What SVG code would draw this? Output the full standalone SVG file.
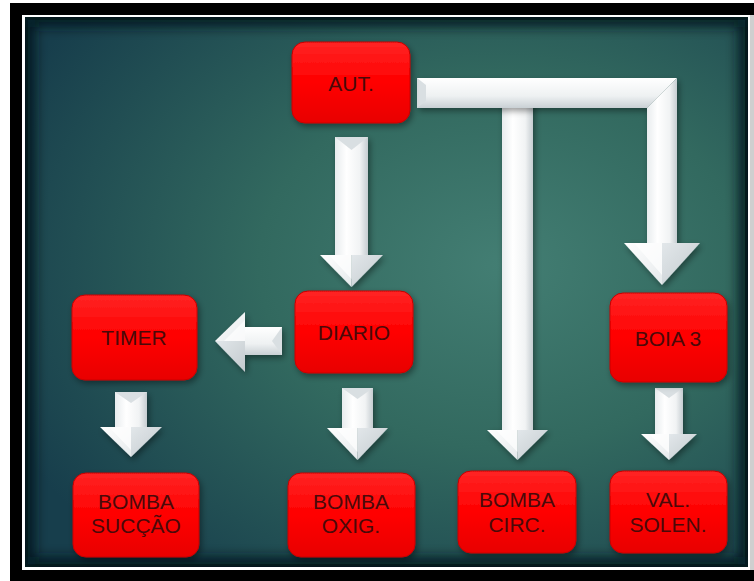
<svg xmlns="http://www.w3.org/2000/svg" width="754" height="581" viewBox="0 0 754 581">
  <defs>
    <radialGradient id="bg" cx="0.66" cy="0.45" r="0.75">
      <stop offset="0" stop-color="#437e73"/>
      <stop offset="0.45" stop-color="#32695f"/>
      <stop offset="1" stop-color="#173e4c"/>
    </radialGradient>
    <linearGradient id="redFill" x1="0" y1="0" x2="0" y2="1">
      <stop offset="0" stop-color="#ff2424"/>
      <stop offset="0.5" stop-color="#ff0000"/>
      <stop offset="1" stop-color="#e80000"/>
    </linearGradient>
    <linearGradient id="shaftV" x1="0" y1="0" x2="1" y2="0">
      <stop offset="0" stop-color="#e8ecee"/>
      <stop offset="0.35" stop-color="#ffffff"/>
      <stop offset="0.75" stop-color="#f1f3f4"/>
      <stop offset="1" stop-color="#c6cdd1"/>
    </linearGradient>
    <linearGradient id="shaftH" x1="0" y1="0" x2="0" y2="1">
      <stop offset="0" stop-color="#ffffff"/>
      <stop offset="0.6" stop-color="#eef1f2"/>
      <stop offset="1" stop-color="#c9d0d4"/>
    </linearGradient>
    <linearGradient id="headL" x1="0" y1="0" x2="1" y2="1">
      <stop offset="0" stop-color="#ffffff"/>
      <stop offset="1" stop-color="#e6eaec"/>
    </linearGradient>
    <linearGradient id="headR" x1="0" y1="0" x2="1" y2="1">
      <stop offset="0" stop-color="#e2e7ea"/>
      <stop offset="1" stop-color="#c3cace"/>
    </linearGradient>
    <filter id="shadow" x="-20%" y="-20%" width="140%" height="140%">
      <feDropShadow dx="2" dy="3" stdDeviation="3" flood-color="#000" flood-opacity="0.4"/>
    </filter>
    <filter id="vig" x="-5%" y="-5%" width="110%" height="110%">
      <feGaussianBlur stdDeviation="6"/>
    </filter>
    <clipPath id="panel">
      <rect x="25" y="17" width="723" height="550"/>
    </clipPath>
    <style>
      .node rect { fill: url(#redFill); stroke: #c80000; stroke-width: 1; filter: url(#shadow); }
      .node text { font-family: "Liberation Sans", "DejaVu Sans", sans-serif; font-size: 21px; fill: #4a0909; text-anchor: middle; }
      .sv { fill: url(#shaftV); }
      .shh { fill: url(#shaftH); }
      .hl { fill: url(#headL); }
      .hr { fill: url(#headR); }
      .bev { fill: #d9dfe2; }
      .lite { fill: #ffffff; }
      .arrow { filter: url(#shadow); }
    </style>
  </defs>

  <!-- page and frame -->
  <rect x="0" y="0" width="754" height="581" fill="#ffffff"/>
  <rect x="10" y="3" width="744" height="578" fill="#000000"/>
  <rect x="22" y="15" width="728" height="555" fill="#ffffff"/>
  <rect x="750" y="15" width="4" height="555" fill="#cfcfcf"/>
  <rect x="25" y="17" width="723" height="550" fill="#0c1c22"/>

  <!-- teal panel with darkened edges -->
  <g clip-path="url(#panel)">
    <rect x="28" y="20" width="717" height="544" fill="url(#bg)"/>
    <rect x="28" y="20" width="717" height="544" fill="none" stroke="#06141a" stroke-width="14" opacity="0.85" filter="url(#vig)"/>
  </g>

  <!-- connectors -->
  <g id="connectors">
    <!-- AUT. to BOMBA CIRC. (middle stem of the T) -->
    <g class="arrow">
      <polygon class="sv" points="502,100 533,100 533,430 502,430"/>
      <polygon class="hl" points="487,430 517.5,430 517.5,460"/>
      <polygon class="hr" points="517.5,430 548,430 517.5,460"/>
      <polygon class="lite" points="496,430 517.5,430 517.5,452" opacity="0.7"/>
    </g>
    <!-- AUT. to BOIA 3 (horizontal bar and right branch) -->
    <g class="arrow">
      <polygon class="shh" points="417,78 677,78 647,108 417,108"/>
      <polygon class="bev" points="417,78 426,85 426,101 417,108"/>
      <polygon class="sv" points="677,78 677,243 647,243 647,108"/>
      <polygon class="hl" points="624,243 662,243 662,285"/>
      <polygon class="hr" points="662,243 700,243 662,285"/>
      <polygon class="lite" points="634,243 662,243 662,275" opacity="0.7"/>
    </g>
    <!-- AUT. to DIARIO -->
    <g class="arrow">
      <polygon class="sv" points="335,137 368,137 368,255 335,255"/>
      <polygon class="bev" points="335,137 368,137 351.5,150"/>
      <polygon class="hl" points="320,255 351.5,255 351.5,287"/>
      <polygon class="hr" points="351.5,255 383,255 351.5,287"/>
      <polygon class="lite" points="329,255 351.5,255 351.5,279" opacity="0.7"/>
    </g>
    <!-- DIARIO to TIMER -->
    <g class="arrow">
      <polygon class="shh" points="245,327 282,327 282,355 245,355"/>
      <polygon class="bev" points="282,327 282,355 272,341"/>
      <polygon class="hl" points="245,312 245,341 215,341"/>
      <polygon class="hr" points="245,341 245,372 215,341"/>
      <polygon class="lite" points="245,320 245,341 224,341" opacity="0.7"/>
    </g>
    <!-- TIMER to BOMBA SUCÇÃO -->
    <g class="arrow">
      <polygon class="sv" points="115,392 147,392 147,427 115,427"/>
      <polygon class="bev" points="115,392 147,392 131,403"/>
      <polygon class="hl" points="100,427 131,427 131,457"/>
      <polygon class="hr" points="131,427 162,427 131,457"/>
      <polygon class="lite" points="109,427 131,427 131,450" opacity="0.7"/>
    </g>
    <!-- DIARIO to BOMBA OXIG. -->
    <g class="arrow">
      <polygon class="sv" points="342,388 373,388 373,428 342,428"/>
      <polygon class="bev" points="342,388 373,388 357.5,399"/>
      <polygon class="hl" points="327,428 357.5,428 357.5,460"/>
      <polygon class="hr" points="357.5,428 388,428 357.5,460"/>
      <polygon class="lite" points="336,428 357.5,428 357.5,452" opacity="0.7"/>
    </g>
    <!-- BOIA 3 to VAL. SOLEN. -->
    <g class="arrow">
      <polygon class="sv" points="655,388 683,388 683,434 655,434"/>
      <polygon class="bev" points="655,388 683,388 669,398"/>
      <polygon class="hl" points="641,434 669,434 669,460"/>
      <polygon class="hr" points="669,434 697,434 669,460"/>
      <polygon class="lite" points="649,434 669,434 669,453" opacity="0.7"/>
    </g>
  </g>

  <!-- nodes -->
  <g id="aut" class="node">
    <rect x="292" y="42" width="118" height="81" rx="13"/>
    <text x="351" y="91">AUT.</text>
  </g>
  <g id="diario" class="node">
    <rect x="295" y="291" width="118" height="82" rx="13"/>
    <text x="354" y="340">DIARIO</text>
  </g>
  <g id="timer" class="node">
    <rect x="72" y="295" width="125" height="85" rx="13"/>
    <text x="134" y="345">TIMER</text>
  </g>
  <g id="boia3" class="node">
    <rect x="610" y="293" width="117" height="89" rx="13"/>
    <text x="668" y="346">BOIA 3</text>
  </g>
  <g id="bomba-succao" class="node">
    <rect x="73" y="473" width="126" height="84" rx="13"/>
    <text x="136" y="509">BOMBA</text>
    <text x="136" y="533">SUCÇÃO</text>
  </g>
  <g id="bomba-oxig" class="node">
    <rect x="288" y="473" width="127" height="84" rx="13"/>
    <text x="351" y="509">BOMBA</text>
    <text x="351" y="533">OXIG.</text>
  </g>
  <g id="bomba-circ" class="node">
    <rect x="458" y="471" width="118" height="82" rx="13"/>
    <text x="517" y="507">BOMBA</text>
    <text x="517" y="532">CIRC.</text>
  </g>
  <g id="val-solen" class="node">
    <rect x="610" y="471" width="117" height="82" rx="13"/>
    <text x="668" y="507">VAL.</text>
    <text x="668" y="532">SOLEN.</text>
  </g>
</svg>
